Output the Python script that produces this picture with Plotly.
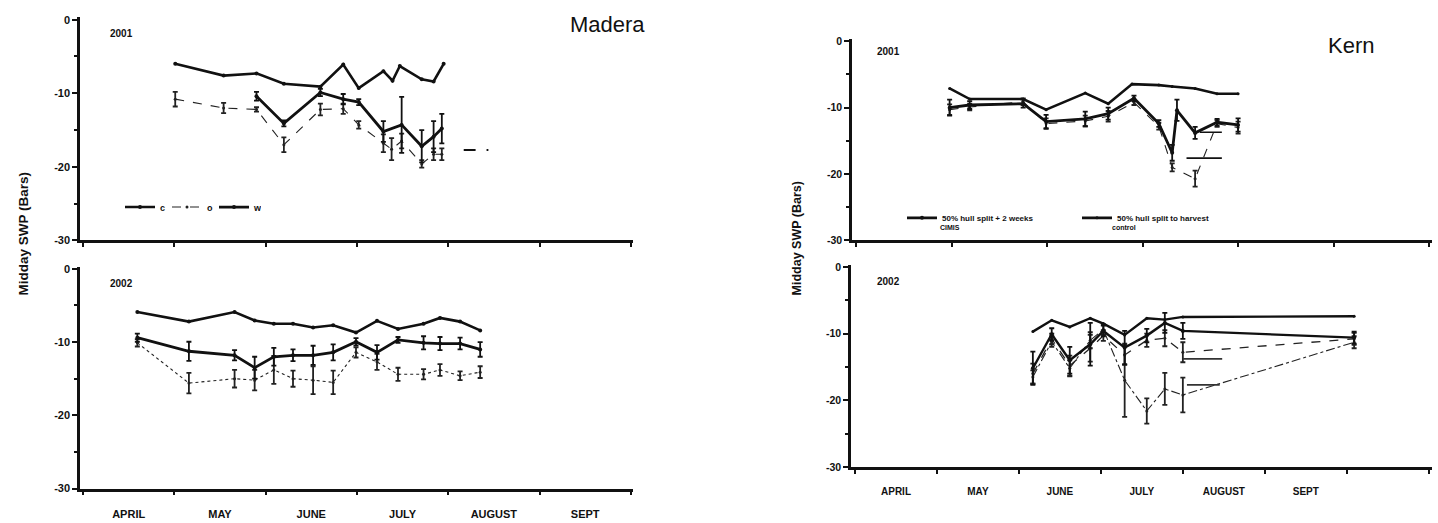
import plotly.graph_objects as go

W, H = 1438, 523

def px_x(x):
    return x / W

def px_y(y):
    return 1 - y / H

# ---------------- DATA (x = months since April 1; y = midday SWP, bars) ----------------
MONTHS = ["APRIL", "MAY", "JUNE", "JULY", "AUGUST", "SEPT"]
MONTHS_KERN = ["APRIL", "MAY", "JUNE", "JULY", "AUGUST", "SEPT"]
Y_TICKS = [0, -10, -20, -30]
Y_MINOR = [-5, -15, -25]

# Madera 2001
m01_c = [1.01, 1.54, 1.90, 2.20, 2.60, 2.85, 3.02, 3.29, 3.39, 3.47, 3.71, 3.84, 3.95]
v01_c = [-6.0, -7.6, -7.3, -8.7, -9.1, -6.1, -9.3, -7.0, -8.3, -6.3, -8.1, -8.4, -6.0]
m01_w = [1.90, 2.20, 2.60, 2.85, 3.02, 3.29, 3.49, 3.71, 3.84, 3.93]
v01_w = [-10.4, -14.1, -9.9, -10.8, -11.2, -15.2, -14.3, -17.2, -15.9, -14.8]
e01_w = [0.6, 0.4, 0.5, 0.7, 0.4, 1.4, 3.8, 2.2, 2.1, 2.0]
m01_o = [1.01, 1.54, 1.90, 2.20, 2.60, 2.85, 3.02, 3.29, 3.38, 3.49, 3.71, 3.84, 3.93]
v01_o = [-10.8, -12.0, -12.2, -17.0, -12.2, -12.1, -14.3, -16.8, -17.6, -16.5, -19.6, -18.3, -18.3]
e01_o = [1.0, 0.7, 0.3, 1.0, 0.8, 0.7, 0.5, 1.2, 1.5, 1.0, 0.5, 0.8, 0.8]
m01_tail = [4.17, 4.30, None, 4.42, 4.44]
v01_tail = [-17.7, -17.7, None, -17.7, -17.7]

# Madera 2002
m02 = [0.595, 1.16, 1.66, 1.88, 2.09, 2.30, 2.52, 2.74, 2.99, 3.22, 3.45, 3.73, 3.91, 4.13, 4.35]
v02_c = [-5.9, -7.2, -5.9, -7.05, -7.5, -7.5, -8.0, -7.7, -8.7, -7.1, -8.2, -7.5, -6.7, -7.2, -8.4]
v02_w = [-9.4, -11.25, -11.8, -13.5, -12.0, -11.8, -11.8, -11.4, -9.95, -11.4, -9.7, -10.1, -10.2, -10.2, -11.0]
e02_w = [0.55, 1.3, 0.7, 1.5, 1.2, 0.8, 1.3, 1.1, 0.5, 1.0, 0.4, 0.9, 0.9, 0.8, 1.0]
v02_o = [-10.1, -15.6, -15.0, -15.2, -13.8, -15.0, -15.2, -15.5, -11.4, -12.7, -14.4, -14.4, -13.8, -14.6, -14.1]
e02_o = [0.5, 1.4, 1.2, 1.4, 1.9, 1.1, 1.9, 1.6, 0.7, 1.1, 0.9, 0.7, 0.8, 0.6, 0.8]

# Kern 2001
k01_ma = [0.98, 1.19, 1.75, 1.99, 2.40, 2.64, 2.89, 3.17, 3.31, 3.55, 3.78, 4.00]
k01_va = [-7.1, -8.7, -8.7, -10.3, -7.8, -9.4, -6.45, -6.6, -6.8, -7.1, -7.9, -7.9]
k01_mb = [0.98, 1.19, 1.75, 1.99, 2.40, 2.64, 2.91, 3.17, 3.31, 3.36, 3.55, 3.78, 4.00]
k01_vb = [-10.0, -9.6, -9.4, -12.1, -11.7, -10.9, -8.6, -12.4, -16.8, -10.4, -13.8, -12.2, -12.6]
k01_eb = [1.2, 0.6, 0.6, 1.0, 1.1, 0.9, 0.4, 0.5, 1.2, 1.6, 0.9, 0.5, 1.0]
k01_mc = [0.98, 1.19, 1.75, 1.99, 2.40, 2.64, 2.91, 3.17, 3.31, 3.55, 3.78, 4.00]
k01_vc = [-10.3, -9.9, -9.1, -12.4, -12.0, -11.3, -9.2, -12.8, -19.0, -20.7, -12.4, -13.0]
k01_ec = [0.8, 0.5, 0.5, 0.8, 0.8, 0.8, 0.4, 0.5, 0.6, 1.2, 0.5, 0.9]
k01_m_bars = [3.60, 3.83, None, 3.46, 3.83]
k01_v_bars = [-13.7, -13.7, None, -17.6, -17.6]

# Kern 2002
k02_m = [2.17, 2.40, 2.62, 2.87, 3.03, 3.29, 3.56, 3.78, 4.00, 6.09]
k02_va = [-9.7, -8.0, -9.0, -7.7, -8.5, -10.2, -7.7, -7.9, -7.5, -7.4]
k02_vb = [-15.2, -10.1, -14.0, -11.6, -9.6, -12.1, -10.3, -8.4, -9.6, -10.6]
k02_eb = [2.5, 0.9, 2.0, 3.2, 0.8, 2.5, 1.0, 1.5, 1.2, 0.9]
k02_vc = [-16.0, -10.8, -14.8, -12.2, -10.3, -13.2, -11.0, -10.7, -12.8, -10.8]
k02_ec = [1.5, 0.8, 1.5, 2.0, 0.8, 1.5, 1.0, 1.2, 1.5, 0.9]
k02_vd = [-16.5, -11.2, -15.2, -11.0, -9.4, -17.0, -21.6, -18.3, -19.2, -11.3]
k02_ed = [1.0, 0.8, 1.2, 1.2, 0.8, 5.5, 1.9, 2.4, 2.6, 0.9]
k02_m_bars = [4.00, 4.48, None, 4.05, 4.45]
k02_v_bars = [-13.8, -13.8, None, -17.7, -17.7]

# ---------------- FIGURE ----------------
INK = "#111111"
fig = go.Figure()


def add(x, y, ax, err=None, width=2.6, dash="solid", msize=4, name=None, legend=None,
        rank=None, color=INK, mode="lines+markers"):
    tr = dict(x=x, y=y, xaxis="x" + ax, yaxis="y" + ax, mode=mode,
              line=dict(color=color, width=width, dash=dash),
              marker=dict(size=msize, color=color, symbol="circle"),
              showlegend=name is not None, hoverinfo="skip")
    if name is not None:
        tr["name"] = name
        tr["legend"] = legend
        if rank is not None:
            tr["legendrank"] = rank
    if err is not None:
        tr["error_y"] = dict(type="data", array=err, visible=True, color=color,
                             thickness=1.8, width=2.5)
    fig.add_trace(go.Scatter(**tr))


# Madera 2001 (axis 1)
add(m01_o, v01_o, "", err=e01_o, width=1.1, dash="dash", msize=3, name="o", legend="legend",
    rank=2, color="#222222")
add(m01_w, v01_w, "", err=e01_w, width=2.8, msize=4, name="w", legend="legend", rank=3)
add(m01_c, v01_c, "", width=2.6, msize=4, name="c", legend="legend", rank=1)
add(m01_tail, v01_tail, "", width=2.0, mode="lines")

# Madera 2002 (axis 2)
add(m02, v02_o, "2", err=e02_o, width=1.1, dash="dot", msize=3, color="#222222")
add(m02, v02_w, "2", err=e02_w, width=2.8, msize=4)
add(m02, v02_c, "2", width=2.6, msize=4)

# Kern 2001 (axis 3)
add(k01_mc, k01_vc, "3", err=k01_ec, width=1.1, dash="dash", msize=3, color="#222222")
add(k01_mb, k01_vb, "3", err=k01_eb, width=2.8, msize=4, name="50% hull split + 2 weeks",
    legend="legend2", rank=1)
add(k01_ma, k01_va, "3", width=2.6, msize=3, name="50% hull split to harvest",
    legend="legend2", rank=2)
add(k01_m_bars, k01_v_bars, "3", width=1.6, mode="lines")

# Kern 2002 (axis 4)
add(k02_m, k02_vd, "4", err=k02_ed, width=1.1, dash="dashdot", msize=3, color="#222222")
add(k02_m, k02_vc, "4", err=k02_ec, width=1.3, dash="dash", msize=3, color="#222222")
add(k02_m, k02_vb, "4", err=k02_eb, width=2.4, msize=4)
add(k02_m, k02_va, "4", width=2.4, msize=3)
add(k02_m_bars, k02_v_bars, "4", width=1.8, mode="lines", color="#333333")

FONT = "Liberation Sans, Arial, sans-serif"

def xaxis(domain, rng, nmonths, labels, show_labels, size, standoff):
    d = dict(domain=domain, range=rng, showline=True, linecolor=INK, linewidth=2.5,
             showgrid=False, zeroline=False, fixedrange=True,
             tickmode="array", ticks="", ticklen=0,
             tickvals=[i + 0.5 for i in range(len(labels))] if show_labels else [],
             ticktext=labels if show_labels else [],
             tickfont=dict(family=FONT, size=size, color=INK, weight="bold"),
             ticklabelstandoff=standoff,
             minor=dict(tickmode="array", tickvals=list(range(nmonths + 1)), ticks="outside",
                        ticklen=4, tickwidth=2, tickcolor=INK))
    return d


def yaxis(domain, anchor, size):
    return dict(domain=domain, range=[-30, 0.3], anchor=anchor, showline=True, linecolor=INK,
                linewidth=2.5, showgrid=False, zeroline=False, fixedrange=True,
                tickmode="array", tickvals=Y_TICKS, ticktext=[str(t) for t in Y_TICKS],
                ticks="outside", ticklen=5, tickwidth=2, tickcolor=INK,
                tickfont=dict(family=FONT, size=size, color=INK, weight="bold"),
                minor=dict(tickmode="array", tickvals=Y_MINOR, ticks="outside",
                           ticklen=3, tickwidth=1.5, tickcolor=INK))


md = [px_x(80), px_x(633)]
kd3 = [px_x(852), px_x(1432)]
kd4 = [px_x(851), px_x(1432)]

fig.update_layout(
    width=W, height=H, margin=dict(l=0, r=0, t=0, b=0),
    paper_bgcolor="white", plot_bgcolor="white",
    xaxis=dict(xaxis(md, [-0.033, 6.024], 6, MONTHS, False, 11, 13), anchor="y"),
    yaxis=yaxis([px_y(241), px_y(13.75)], "x", 11),
    xaxis2=dict(xaxis(md, [-0.033, 6.024], 6, MONTHS, True, 11, 13), anchor="y2"),
    yaxis2=yaxis([px_y(494), px_y(267.8)], "x2", 11),
    xaxis3=dict(xaxis(kd3, [-0.042, 6.03], 6, MONTHS_KERN, False, 10, 13), anchor="y3"),
    yaxis3=yaxis([px_y(241), px_y(36)], "x3", 10.5),
    xaxis4=dict(xaxis(kd4, [-0.049, 7.04], 7, MONTHS_KERN, True, 10, 13), anchor="y4"),
    yaxis4=yaxis([px_y(472), px_y(266)], "x4", 10.5),
    legend=dict(orientation="h", x=px_x(120), y=px_y(207), xanchor="left", yanchor="middle",
                font=dict(family=FONT, size=9, color=INK, weight="bold"),
                bgcolor="rgba(0,0,0,0)", itemwidth=30, traceorder="normal",
                entrywidth=2, entrywidthmode="pixels", tracegroupgap=0),
    legend2=dict(orientation="h", x=px_x(902), y=px_y(218), xanchor="left", yanchor="middle",
                 font=dict(family=FONT, size=8, color=INK, weight="bold"),
                 bgcolor="rgba(0,0,0,0)", itemwidth=30, traceorder="normal",
                 entrywidth=130, entrywidthmode="pixels"),
    showlegend=True,
)

ann = [
    dict(text="Madera", x=px_x(607), y=px_y(21), size=22, weight="normal"),
    dict(text="Kern", x=px_x(1351), y=px_y(42), size=22, weight="normal"),
    dict(text="2001", x=px_x(122), y=px_y(30), size=10, weight="bold"),
    dict(text="2002", x=px_x(122), y=px_y(285), size=10, weight="bold"),
    dict(text="2001", x=px_x(888), y=px_y(48), size=10, weight="bold"),
    dict(text="2002", x=px_x(888), y=px_y(283), size=10, weight="bold"),
    dict(text="CIMIS", x=px_x(950), y=px_y(228), size=7, weight="bold"),
    dict(text="control", x=px_x(1124), y=px_y(228), size=7, weight="bold"),
]
for a in ann:
    fig.add_annotation(text=a["text"], x=a["x"], y=a["y"], xref="paper", yref="paper",
                       showarrow=False, xanchor="center", yanchor="middle",
                       font=dict(family=FONT, size=a["size"], color=INK, weight=a["weight"]))

for xx, yy, sz in [(24, 234, 13.5), (797, 239, 12.5)]:
    fig.add_annotation(text="Midday SWP (Bars)", x=px_x(xx), y=px_y(yy), xref="paper", yref="paper",
                       showarrow=False, textangle=-90, xanchor="center", yanchor="middle",
                       font=dict(family=FONT, size=sz, color=INK, weight="bold"))

fig.write_html("out.html")
